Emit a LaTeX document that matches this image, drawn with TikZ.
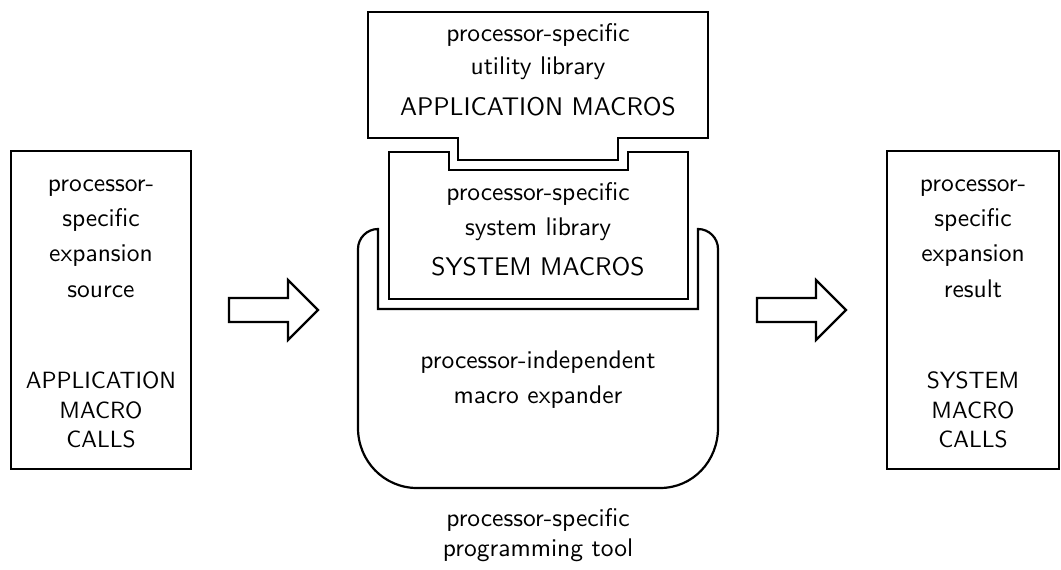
\documentclass[tikz,border=0pt]{standalone}
\usepackage{fontspec}
\newfontfamily\lmsansten{lmsans10-regular.otf}
\begin{document}
\tikzset{
  outline/.style={line width=2.2pt, line join=miter},
  boxnode/.style={outline, draw, inner sep=0pt, outer sep=0pt},
  lbl/.style={font=\fontsize{25.5}{30}\selectfont\lmsansten, anchor=base, inner sep=0pt},
  caps/.style={lbl, font=\fontsize{23.5}{28}\selectfont\lmsansten},
}
\begin{tikzpicture}[x=1pt,y=-1pt]
\useasboundingbox (0,0) rectangle (1061,570);

% input and output files
\node[boxnode, minimum width=180pt, minimum height=318pt] (src) at (101,310) {};
\node[boxnode, minimum width=172pt, minimum height=318pt] (res) at (973,310) {};

% flow arrows
\coordinate (a1) at (229,310);
\coordinate (a2) at (757,310);
\foreach \c in {a1,a2}{
  \draw[outline] (\c) ++(0,-12) -- ++(59,0) -- ++(0,-18) -- ++(30,30)
    -- ++(-30,30) -- ++(0,-18) -- ++(-59,0) -- cycle;
}

% utility library with its tab
\draw[outline] (368,12) -- (708,12) -- (708,138) -- (618,138) -- (618,160)
  -- (458,160) -- (458,138) -- (368,138) -- cycle;

% system library with its notch
\draw[outline] (389,152) -- (449,152) -- (449,170) -- (628,170) -- (628,152)
  -- (688,152) -- (688,299) -- (389,299) -- cycle;

% macro expander cradle
\draw[outline] (378,229) -- (378,309) -- (698,309) -- (698,229)
  .. controls (709,229) and (718,238) .. (718,249)
  -- (718,428) .. controls (718,461) and (693,488) .. (660,488)
  -- (417,488) .. controls (384,488) and (358,461) .. (358,428)
  -- (358,249) .. controls (358,238) and (367,229) .. cycle;

% labels
\node[lbl] (u1) at (538,41) {processor-specific};
\node[lbl] (u2) at (538,74) {utility library};
\node[lbl] (u3) at (538,115) {APPLICATION MACROS};

\node[lbl] (s1) at (538,200) {processor-specific};
\node[lbl] (s2) at (538,235) {system library};
\node[lbl] (s3) at (538,275) {SYSTEM MACROS};

\node[lbl] (e1) at (538,368) {processor-independent};
\node[lbl] (e2) at (538,403) {macro expander};

\node[lbl] (t1) at (538,526) {processor-specific};
\node[lbl] (t2) at (538,556) {programming tool};

\node[lbl] (l1) at (101,191) {processor-};
\node[lbl] (l2) at (101,226) {specific};
\node[lbl] (l3) at (101,261) {expansion};
\node[lbl] (l4) at (101,297) {source};
\node[caps] (l5) at (101,388) {APPLICATION};
\node[caps] (l6) at (101,418) {MACRO};
\node[caps] (l7) at (101,447) {CALLS};

\node[lbl] (r1) at (973,191) {processor-};
\node[lbl] (r2) at (973,226) {specific};
\node[lbl] (r3) at (973,261) {expansion};
\node[lbl] (r4) at (973,297) {result};
\node[caps] (r5) at (973,388) {SYSTEM};
\node[caps] (r6) at (973,418) {MACRO};
\node[caps] (r7) at (973,447) {CALLS};
\end{tikzpicture}
\end{document}
